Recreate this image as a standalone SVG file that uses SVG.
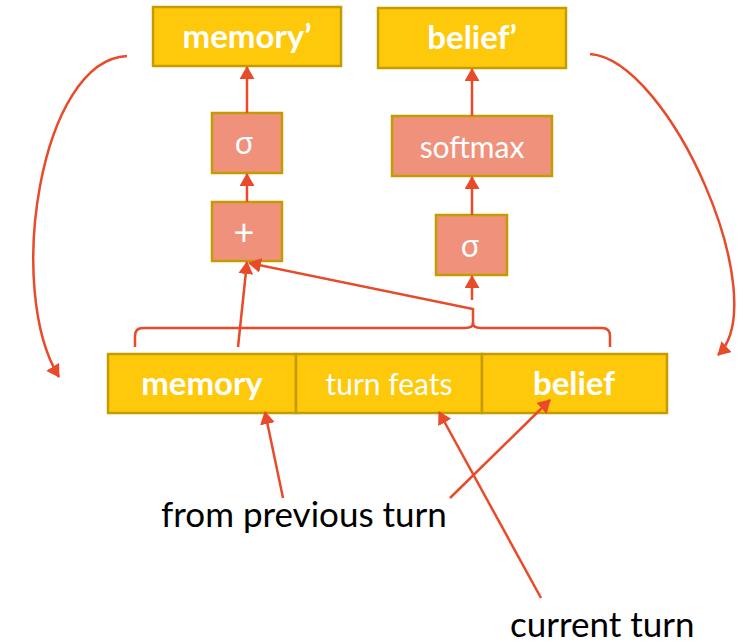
<svg xmlns="http://www.w3.org/2000/svg" width="744" height="643" viewBox="0 0 744 643">
  <style>
    .state { fill: #FFC90B; stroke: #C59C00; stroke-width: 2.5; }
    .op { fill: #F0917B; stroke: #C59C00; stroke-width: 2.5; }
    .lbl { font-family: Lato, "Noto Sans", sans-serif; fill: #FFFFFF; text-anchor: middle; }
    .b { font-weight: bold; font-size: 33px; }
    .r { font-size: 30px; }
    .sig { font-family: "Noto Sans", Lato, sans-serif; font-size: 31px; }
    .note { font-family: Lato, "Noto Sans", sans-serif; font-size: 35px; fill: #000000; }
    .wire { fill: none; stroke: #E84A2A; stroke-width: 2.5; }
    .arr { marker-end: url(#head); }
  </style>
  <defs>
    <marker id="head" viewBox="0 0 13 15" refX="12" refY="7.5" markerWidth="13" markerHeight="15" markerUnits="userSpaceOnUse" orient="auto">
      <path d="M0,0 L13,7.5 L0,15 z" fill="#E84A2A"/>
    </marker>
  </defs>

  <!-- outputs -->
  <g id="memory-out">
    <rect class="state" x="153" y="7" width="188" height="59"/>
    <text class="lbl b" x="247" y="48">memory’</text>
  </g>
  <g id="belief-out">
    <rect class="state" x="378" y="8" width="188" height="60"/>
    <text class="lbl b" x="472" y="49">belief’</text>
  </g>

  <!-- memory branch -->
  <g id="sigma-mem">
    <rect class="op" x="212" y="113" width="70" height="60"/>
    <text class="lbl sig" x="244" y="154">σ</text>
  </g>
  <g id="plus">
    <rect class="op" x="212" y="202" width="70" height="59"/>
    <text class="lbl" x="244" y="245" font-size="36">+</text>
  </g>

  <!-- belief branch -->
  <g id="softmax">
    <rect class="op" x="392" y="116" width="160" height="60"/>
    <text class="lbl r" x="472" y="158">softmax</text>
  </g>
  <g id="sigma-bel">
    <rect class="op" x="436" y="215" width="71" height="60"/>
    <text class="lbl sig" x="470" y="257">σ</text>
  </g>

  <!-- input vector -->
  <g id="input">
    <rect class="state" x="108" y="354" width="188" height="59"/>
    <rect class="state" x="296" y="354" width="186" height="59"/>
    <rect class="state" x="482" y="354" width="185" height="59"/>
    <text class="lbl b" x="202" y="395">memory</text>
    <text class="lbl r" x="389" y="395">turn feats</text>
    <text class="lbl b" x="574" y="395">belief</text>
  </g>

  <!-- annotations -->
  <g id="note-prev">
    <text class="note" x="161" y="527">from previous turn</text>
  </g>
  <g id="note-cur">
    <text class="note" x="510" y="637">current turn</text>
  </g>

  <g id="connectors">
    <!-- brace over the whole input -->
    <path class="wire" d="M135,347 V336 Q135,328 143,328 H465 Q473,328 473,323 Q473,328 481,328 H602 Q610,328 610,336 V347"/>
    <!-- forward pass -->
    <path class="wire arr" d="M247,113 V67"/>
    <path class="wire arr" d="M247,202 V174"/>
    <path class="wire arr" d="M472,116 V69"/>
    <path class="wire arr" d="M472,215 V177"/>
    <path class="wire arr" d="M472,300 V276"/>
    <path class="wire arr" d="M238,347 L247,262"/>
    <path class="wire arr" d="M473,324 V309 L249,263"/>
    <!-- recurrence -->
    <path class="wire arr" d="M127,56 C40,60 5,290 59,377"/>
    <path class="wire arr" d="M590,54 C670,60 775,300 718,355"/>
    <!-- annotation pointers -->
    <path class="wire arr" d="M283,498 L265,412"/>
    <path class="wire arr" d="M450,498 L550,400"/>
    <path class="wire arr" d="M541,598 L439,412"/>
  </g>
</svg>
